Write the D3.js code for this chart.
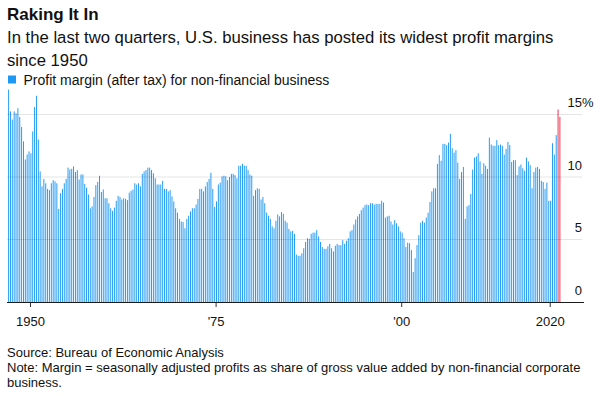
<!DOCTYPE html>
<html>
<head>
<meta charset="utf-8">
<script src="https://cdn.jsdelivr.net/npm/d3@7"></script>
<style>
  body { margin: 0; background: #fff; }
  text { font-family: "Liberation Sans", Arial, sans-serif; fill: #111; }
</style>
</head>
<body>
<div id="chart"></div>
<script>
// quarterly after-tax profit margin, % (one row per year, Q1..Q4)
var first_quarter = new Date(1947, 0, 1);
var margins = [
	17.0, 15.25, 14.6, 15.25,    // 1947
	15.1, 15.5, 14.8, 14.0,
	12.85, 11.4, 11.8, 12.05,
	11.9, 13.65, 15.6, 16.5,     // 1950
	13.0, 10.45, 9.25, 9.85,
	9.5, 9.05, 8.95, 9.5,
	9.75, 9.65, 9.5, 7.45,
	8.7, 9.05, 9.5, 9.85,
	10.75, 10.6, 10.65, 10.85,
	10.4, 10.55, 9.8, 10.2,
	10.2, 9.45, 9.15, 8.6,
	7.5, 7.65, 8.4, 9.35,
	9.6, 10.1, 8.8, 9.0,
	8.3, 8.3, 7.9, 7.5,          // 1960
	7.3, 7.55, 8.1, 8.5,
	8.4, 8.2, 8.3, 8.25,
	8.15, 8.75, 8.9, 9.0,
	9.5, 9.4, 9.5, 9.25,
	10.25, 10.45, 10.55, 10.75,
	10.75, 10.55, 10.3, 9.9,
	9.4, 9.4, 9.4, 9.7,
	9.05, 9.05, 8.85, 8.95,
	8.45, 8.05, 7.5, 7.15,
	6.65, 6.45, 6.4, 5.9,        // 1970
	6.65, 6.9, 7.25, 7.5,
	7.5, 7.8, 8.25, 9.05,
	9.05, 8.85, 9.25, 9.6,
	9.85, 10.35, 9.05, 7.6,
	8.05, 9.4, 9.55, 10.05,
	10.1, 10.05, 9.75, 10.0,
	10.25, 10.25, 10.15, 9.9,
	10.9, 10.9, 11.05, 10.9,
	10.9, 10.55, 10.2, 10.1,
	8.5, 8.95, 9.1, 9.05,        // 1980
	8.2, 8.4, 7.9, 7.15,
	6.9, 6.65, 6.05, 5.9,
	6.5, 7.0, 6.85, 7.2,
	7.05, 6.5, 6.35, 5.85,
	5.65, 5.7, 5.45, 3.8,
	3.7, 3.7, 3.9, 4.3,
	4.8, 5.1, 5.05, 5.45,
	5.55, 5.55, 5.75, 5.25,
	4.8, 4.4, 4.25, 4.25,
	4.45, 4.65, 4.3, 4.05,       // 1990
	4.5, 4.65, 4.55, 4.55,
	4.95, 4.65, 4.9, 5.1,
	5.65, 5.75, 6.2, 6.6,
	6.85, 7.05, 7.35, 7.55,
	7.75, 7.8, 7.75, 7.9,
	7.9, 7.8, 7.85, 7.85,
	7.85, 8.1, 7.95, 6.75,
	6.85, 6.9, 6.45, 6.2,
	6.55, 6.3, 6.05, 5.65,
	5.55, 5.1, 4.4, 4.75,        // 2000
	4.7, 4.15, 2.4, 3.5,
	4.55, 5.35, 6.35, 6.5,
	6.35, 6.75, 7.15, 8.0,
	8.85, 9.1, 9.1, 11.05,
	11.75, 11.3, 12.65, 12.65,
	12.55, 12.75, 13.45, 12.3,
	11.95, 12.15, 11.15, 9.85,
	10.4, 10.8, 6.65, 7.65,
	7.75, 8.65, 10.6, 11.55,
	11.65, 11.9, 11.25, 10.25,   // 2010
	11.1, 10.9, 10.65, 13.15,
	12.6, 12.5, 12.5, 12.95,
	12.55, 12.6, 12.5, 11.8,
	12.25, 12.8, 12.55, 11.2,
	11.35, 11.35, 10.15, 10.85,
	11.0, 10.7, 10.5, 11.55,
	11.25, 10.95, 9.1, 10.4,
	10.75, 10.8, 10.65, 9.7,
	9.6, 9.05, 9.55, 8.1,
	8.1, 12.7, 11.8, 13.35,      // 2020
	15.4, 14.8
];
var highlighted_quarters = 2;   // last two quarters drawn in red

var x_tick_years  = [1950, 1975, 2000, 2020];
var x_tick_labels = ['1950', "'75", "'00", '2020'];
var y_ticks       = [0, 5, 10, 15];

var width  = 600;
var height = 396;
var blue   = '#1e98f3';
var red    = '#ec2f4b';

var data = margins.map(function(v, i) {
	return {
		date: d3.timeMonth.offset(first_quarter, i * 3),
		value: v,
		last: i >= margins.length - highlighted_quarters
	};
});

var x_scale = d3.scaleTime()
				.domain([first_quarter, new Date(2024, 5, 1)])
				.range([7.7, 582.5]);
var y_scale = d3.scaleLinear()
				.domain([0, 15])
				.range([302, 114.5]);

var band  = x_scale(d3.timeMonth.offset(first_quarter, 3)) - x_scale(first_quarter);
var bar_w = band * 0.52;

var svg = d3.select('#chart')
			.append('svg')
			.attr('width', width)
			.attr('height', height);

// Titles
svg.append('text')
   .attr('x', 7).attr('y', 19.5)
   .style('font-size', '17px').style('font-weight', 'bold')
   .text('Raking It In');
var sub = svg.append('text')
			 .attr('x', 7).attr('y', 43)
			 .style('font-size', '16.7px');
sub.append('tspan').attr('x', 7)
   .text('In the last two quarters, U.S. business has posted its widest profit margins');
sub.append('tspan').attr('x', 7).attr('dy', 23).text('since 1950');

// Legend
svg.append('rect')
   .attr('x', 8).attr('y', 75.5).attr('width', 8).attr('height', 8)
   .attr('fill', blue);
svg.append('text')
   .attr('x', 23.5).attr('y', 84.5)
   .style('font-size', '14px')
   .text('Profit margin (after tax) for non-financial business');

// Bars
svg.append('g')
   .selectAll('rect')
   .data(data)
   .enter()
   .append('rect')
   .attr('x', function(d) { return x_scale(d.date) + (band - bar_w) / 2; })
   .attr('y', function(d) { return y_scale(d.value); })
   .attr('width', bar_w)
   .attr('height', function(d) { return y_scale(0) - y_scale(d.value); })
   .attr('fill', function(d) { return d.last ? red : blue; });

// Grid lines over the bars
svg.append('g')
   .selectAll('line')
   .data(y_ticks.filter(function(t) { return t > 0; }))
   .enter()
   .append('line')
   .attr('x1', 7).attr('x2', 582)
   .attr('y1', function(d) { return y_scale(d); })
   .attr('y2', function(d) { return y_scale(d); })
   .attr('stroke', '#000')
   .attr('stroke-opacity', 0.1)
   .attr('stroke-width', 1.2);

// Y labels, right side, sitting above each line
svg.append('g')
   .selectAll('text')
   .data(y_ticks)
   .enter()
   .append('text')
   .attr('x', 582)
   .attr('y', function(d) { return y_scale(d) - 7.5; })
   .attr('text-anchor', 'end')
   .style('font-size', '13px')
   .text(function(d) { return d; });
svg.append('text')
   .attr('x', 582).attr('y', y_scale(15) - 7.5)
   .style('font-size', '13px')
   .text('%');

// X axis
var x_axis = d3.axisBottom(x_scale)
			   .tickValues(x_tick_years.map(function(y) { return new Date(y, 0, 1); }))
			   .tickSize(5)
			   .tickFormat(function(d, i) { return x_tick_labels[i]; });
var gx = svg.append('g')
			.attr('transform', 'translate(0,' + y_scale(0) + ')')
			.call(x_axis);
gx.select('.domain').remove();
gx.selectAll('line').attr('stroke', '#333');
gx.selectAll('text')
  .attr('y', 24).attr('dy', 0)
  .style('font-size', '13px')
  .style('font-family', '"Liberation Sans", Arial, sans-serif')
  .attr('fill', '#111');

svg.append('line')
   .attr('x1', 7).attr('x2', 584)
   .attr('y1', y_scale(0) + 0.5).attr('y2', y_scale(0) + 0.5)
   .attr('stroke', '#1b1b1b')
   .attr('stroke-width', 1);

// Footer
var foot = svg.append('text')
			  .attr('x', 7).attr('y', 357)
			  .style('font-size', '13px');
foot.append('tspan').attr('x', 7).text('Source: Bureau of Economic Analysis');
foot.append('tspan').attr('x', 7).attr('dy', 15)
	.text('Note: Margin = seasonally adjusted profits as share of gross value added by non-financial corporate');
foot.append('tspan').attr('x', 7).attr('dy', 15).text('business.');
</script>
</body>
</html>
